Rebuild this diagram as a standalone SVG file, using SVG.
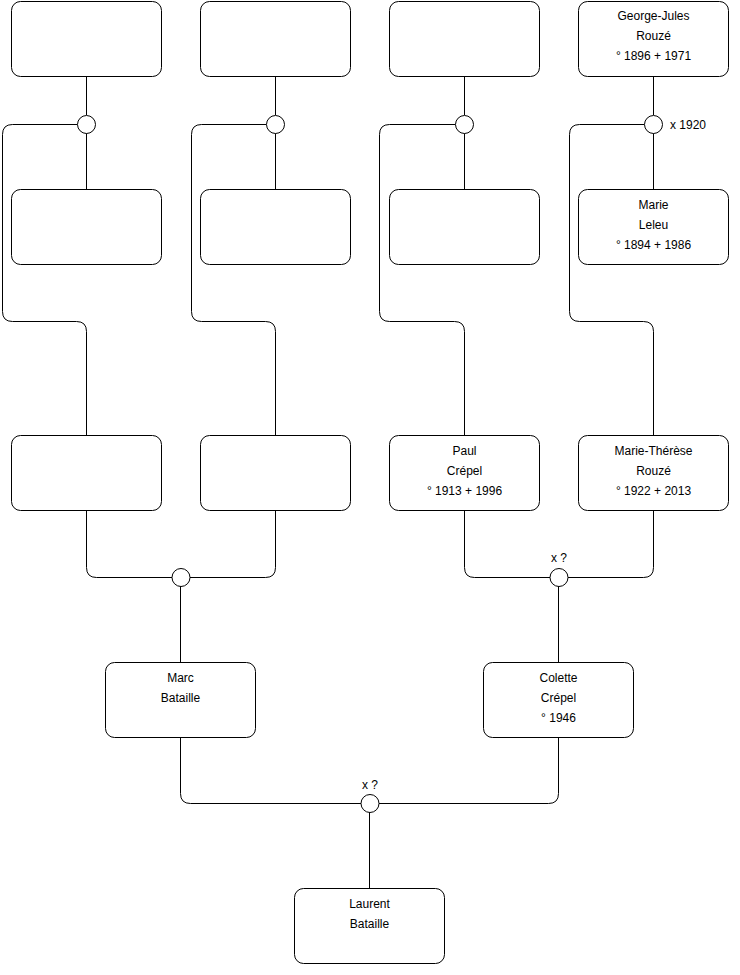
<svg xmlns="http://www.w3.org/2000/svg" width="740" height="975" viewBox="0 0 740 975">
<style>
.box{fill:#fff;stroke:#000;stroke-width:1}
.c{fill:#fff;stroke:#000;stroke-width:1}
.ln{fill:none;stroke:#000;stroke-width:1}
text{font-family:"Liberation Sans",Arial,sans-serif;font-size:12px;fill:#000;text-anchor:middle}
.l{text-anchor:start}
</style>
<rect width="740" height="975" fill="#fff"/>
<g id="connectors">
<path class="ln" d="M86.5 76V115M86.5 133V189"/>
<path class="ln" d="M77.5 124.5H12.5Q2.5 124.5 2.5 134.5V311.5Q2.5 321.5 12.5 321.5H76.5Q86.5 321.5 86.5 331.5V435"/>
<path class="ln" d="M275.5 76V115M275.5 133V189"/>
<path class="ln" d="M266.5 124.5H201.5Q191.5 124.5 191.5 134.5V311.5Q191.5 321.5 201.5 321.5H265.5Q275.5 321.5 275.5 331.5V435"/>
<path class="ln" d="M464.5 76V115M464.5 133V189"/>
<path class="ln" d="M455.5 124.5H389.5Q379.5 124.5 379.5 134.5V311.5Q379.5 321.5 389.5 321.5H454.5Q464.5 321.5 464.5 331.5V435"/>
<path class="ln" d="M653.5 76V115M653.5 133V189"/>
<path class="ln" d="M644.5 124.5H579.5Q569.5 124.5 569.5 134.5V311.5Q569.5 321.5 579.5 321.5H643.5Q653.5 321.5 653.5 331.5V435"/>
<path class="ln" d="M86.5 510V567.5Q86.5 577.5 96.5 577.5H172"/>
<path class="ln" d="M275.5 510V567.5Q275.5 577.5 265.5 577.5H190"/>
<path class="ln" d="M180.5 586V662"/>
<path class="ln" d="M464.5 510V567.5Q464.5 577.5 474.5 577.5H550"/>
<path class="ln" d="M653.5 510V567.5Q653.5 577.5 643.5 577.5H568"/>
<path class="ln" d="M558.5 586V662"/>
<path class="ln" d="M180.5 737V793.5Q180.5 803.5 190.5 803.5H361"/>
<path class="ln" d="M558.5 737V793.5Q558.5 803.5 548.5 803.5H379"/>
<path class="ln" d="M369.5 812V888"/>
</g>
<g id="unions">
<circle class="c" cx="86.5" cy="124.5" r="9"/>
<circle class="c" cx="275.5" cy="124.5" r="9"/>
<circle class="c" cx="464.5" cy="124.5" r="9"/>
<circle class="c" cx="653.5" cy="124.5" r="9"/>
<text class="l" x="670" y="128.5">x 1920</text>
<circle class="c" cx="181" cy="577.5" r="9"/>
<circle class="c" cx="559" cy="577.5" r="9"/>
<text x="559" y="562">x ?</text>
<circle class="c" cx="370" cy="803.5" r="9"/>
<text x="370" y="789">x ?</text>
</g>
<g id="n1"><rect class="box" x="11.5" y="1.5" width="150" height="75" rx="9"/></g>
<g id="n2"><rect class="box" x="200.5" y="1.5" width="150" height="75" rx="9"/></g>
<g id="n3"><rect class="box" x="389.5" y="1.5" width="150" height="75" rx="9"/></g>
<g id="n4"><rect class="box" x="578.5" y="1.5" width="150" height="75" rx="9"/>
<text x="653.5" y="20">George-Jules</text><text x="653.5" y="40">Rouzé</text><text x="653.5" y="60">° 1896 + 1971</text></g>
<g id="n5"><rect class="box" x="11.5" y="189.5" width="150" height="75" rx="9"/></g>
<g id="n6"><rect class="box" x="200.5" y="189.5" width="150" height="75" rx="9"/></g>
<g id="n7"><rect class="box" x="389.5" y="189.5" width="150" height="75" rx="9"/></g>
<g id="n8"><rect class="box" x="578.5" y="189.5" width="150" height="75" rx="9"/>
<text x="653.5" y="209">Marie</text><text x="653.5" y="229">Leleu</text><text x="653.5" y="249">° 1894 + 1986</text></g>
<g id="n9"><rect class="box" x="11.5" y="435.5" width="150" height="75" rx="9"/></g>
<g id="n10"><rect class="box" x="200.5" y="435.5" width="150" height="75" rx="9"/></g>
<g id="n11"><rect class="box" x="389.5" y="435.5" width="150" height="75" rx="9"/>
<text x="464.5" y="454.5">Paul</text><text x="464.5" y="474.5">Crépel</text><text x="464.5" y="494.5">° 1913 + 1996</text></g>
<g id="n12"><rect class="box" x="578.5" y="435.5" width="150" height="75" rx="9"/>
<text x="653.5" y="454.5">Marie-Thérèse</text><text x="653.5" y="474.5">Rouzé</text><text x="653.5" y="494.5">° 1922 + 2013</text></g>
<g id="n13"><rect class="box" x="105.5" y="662.5" width="150" height="75" rx="9"/>
<text x="180.5" y="681.5">Marc</text><text x="180.5" y="701.5">Bataille</text></g>
<g id="n14"><rect class="box" x="483.5" y="662.5" width="150" height="75" rx="9"/>
<text x="558.5" y="681.5">Colette</text><text x="558.5" y="701.5">Crépel</text><text x="558.5" y="721.5">° 1946</text></g>
<g id="n15"><rect class="box" x="294.5" y="888.5" width="150" height="75" rx="9"/>
<text x="369.5" y="908">Laurent</text><text x="369.5" y="928">Bataille</text></g>
</svg>
